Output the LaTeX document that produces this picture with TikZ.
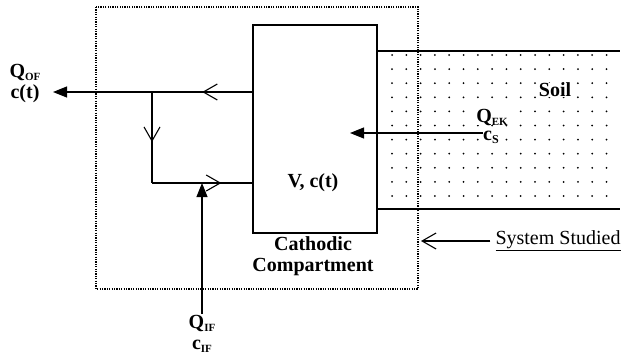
\documentclass[tikz,border=0pt]{standalone}
\usepackage{fontspec}
\setmainfont{Liberation Serif}
\usetikzlibrary{arrows.meta,decorations.markings}
\newcommand\mysub[2][9]{\raisebox{-3pt}{\fontsize{#1}{#1}\selectfont #2}}
\begin{document}
\begin{tikzpicture}[x=1pt,y=-1pt,
  lbl/.style={font=\fontsize{20}{21}\selectfont\bfseries, inner sep=1pt, align=center},
  ln/.style={line width=1.1pt},
  openmid/.style={postaction={decorate},decoration={markings,mark=at position #1 with {\arrow{Straight Barb[length=14pt,width=16pt,line width=1.1pt]}}}},
  solidtip/.style={-{Triangle[length=14pt,width=11pt]}},
  opentip/.style={-{Straight Barb[length=14pt,width=16pt,line width=1.1pt]}}]
\useasboundingbox (0,0) rectangle (628,354);

% soil dots
\foreach \i in {0,...,15}{
  \foreach \j in {0,...,10}{
    \fill ({392+14.3*\i},{55+14.1*\j}) circle (1pt);
  }
}

% system boundary
\draw[line width=1.5pt, dash pattern=on 1.2pt off 1.2pt] (96,7) rectangle (418,289);

% cathodic compartment
\node[draw, ln, fill=white, minimum width=124pt, minimum height=208pt, inner sep=0pt] (cc) at (315,129) {};
\node[lbl] (vc) at (313,183) {V, c(t)};
\node[lbl] (cat) at (313,256) {Cathodic\\Compartment};

% soil boundaries
\draw[ln] (cc.east |- 0,51) -- (620,51);
\draw[ln] (cc.east |- 0,209) -- (620,209);
\node[lbl, fill=white, inner sep=0pt] (soil) at (555,90) {Soil};

% outflow
\coordinate (j1) at (152,92);
\coordinate (j2) at (152,183);
\coordinate (out) at (53,92);
\node[lbl, align=center] (qof) at (25,84) {Q\mysub[11]{OF}\\c(t)};
\draw[ln, openmid=0.5] (cc.west |- j1) -- (j1);
\draw[ln, solidtip] (j1) -- (out);
\draw[ln, openmid=0.55] (j1) -- (j2);
\draw[ln, openmid=0.69] (j2) -- (cc.west |- j2);

% inflow
\node[lbl] (qif) at (202,334) {Q\mysub[11]{IF}\\c\mysub[11]{IF}};
\draw[ln, solidtip] (qif.north) -- (qif.north |- j2);

% electrokinetic flow
\node[lbl, fill=white, inner sep=0pt] (qek) at (492,117) {Q\mysub[11]{EK}};
\node[lbl, fill=white, inner sep=0pt] (cs) at (491,137) {c\mysub[12]{S}};
\coordinate (ek) at (350,133);
\draw[ln, solidtip] (cs.west |- ek) -- (ek);

% system studied
\node[font=\fontsize{20}{22}\selectfont, inner sep=1pt] (ss) at (558,241) {\underline{System Studied}};
\coordinate (sb) at (421,241);
\draw[ln, opentip] (ss.west) ++(-4,0) -- (sb);
\end{tikzpicture}
\end{document}
